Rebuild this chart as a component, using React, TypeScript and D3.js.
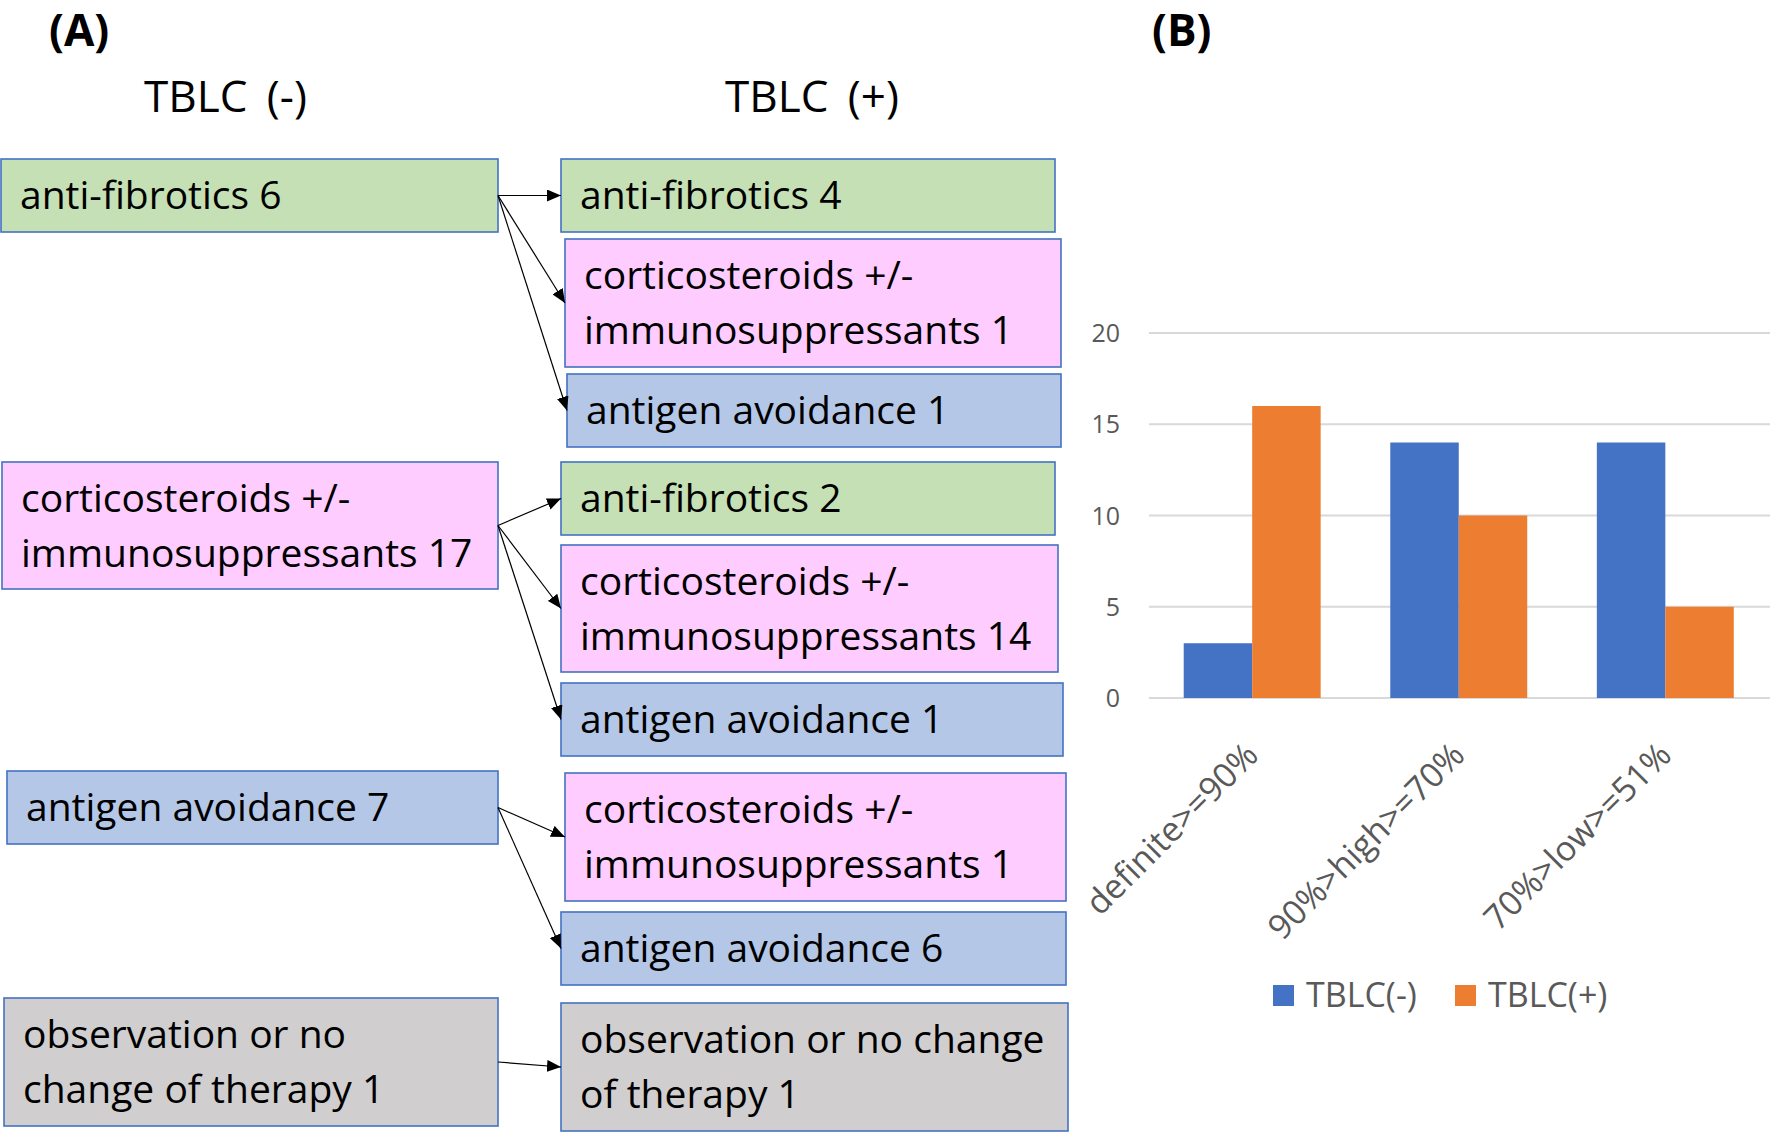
import React, { useEffect } from "react";
import * as d3 from "d3";

// ---------- Panel A data ----------
const treatments = [
  "anti-fibrotics",
  "corticosteroids +/- immunosuppressants",
  "antigen avoidance",
  "observation or no change of therapy",
];
const beforeCounts = [6, 17, 7, 1];
const beforeLines = [
  ["anti-fibrotics 6"],
  ["corticosteroids +/-", "immunosuppressants 17"],
  ["antigen avoidance 7"],
  ["observation or no", "change of therapy 1"],
];
// transitions TBLC(-) -> TBLC(+)
const flowFrom = [0, 0, 0, 1, 1, 1, 2, 2, 3];
const flowTo = [0, 1, 2, 0, 1, 2, 1, 2, 3];
const flowCounts = [4, 1, 1, 2, 14, 1, 1, 6, 1];
const afterLines = [
  ["anti-fibrotics 4"],
  ["corticosteroids +/-", "immunosuppressants 1"],
  ["antigen avoidance 1"],
  ["anti-fibrotics 2"],
  ["corticosteroids +/-", "immunosuppressants 14"],
  ["antigen avoidance 1"],
  ["corticosteroids +/-", "immunosuppressants 1"],
  ["antigen avoidance 6"],
  ["observation or no change", "of therapy 1"],
];
const columnTitles = ["TBLC (-)", "TBLC (+)"];
const panelLabels = ["(A)", "(B)"];

// ---------- Panel B data ----------
const categories = ["definite>=90%", "90%>high>=70%", "70%>low>=51%"];
const seriesNames = ["TBLC(-)", "TBLC(+)"];
const tblcNeg = [3, 14, 14];
const tblcPos = [16, 10, 5];
const yTicks = [0, 5, 10, 15, 20];

// ---------- Layout / styles ----------
const FONT = "'Open Sans', 'Noto Sans', sans-serif";
const treatmentFill = ["#C5E0B4", "#FFCCFF", "#B4C7E7", "#D0CECE"];
const seriesColors = ["#4472C4", "#ED7D31"];
const leftLayout = [
  { x: 1, y: 159, w: 497, h: 73 },
  { x: 2, y: 462, w: 496, h: 127 },
  { x: 7, y: 771, w: 491, h: 73 },
  { x: 4, y: 998, w: 494, h: 128 },
];
const rightLayout = [
  { x: 561, y: 159, w: 494, h: 73 },
  { x: 565, y: 239, w: 496, h: 128 },
  { x: 567, y: 374, w: 494, h: 73 },
  { x: 561, y: 462, w: 494, h: 73 },
  { x: 561, y: 545, w: 497, h: 127 },
  { x: 561, y: 683, w: 502, h: 73 },
  { x: 565, y: 773, w: 501, h: 128 },
  { x: 561, y: 912, w: 505, h: 73 },
  { x: 561, y: 1003, w: 507, h: 128 },
];

function Box({ b, fill, lines }: { b: any; fill: string; lines: string[] }) {
  return (
    <g>
      <rect x={b.x} y={b.y} width={b.w} height={b.h} fill={fill} stroke="#4472C4" strokeWidth={1.6} />
      {lines.map((t, i) => (
        <text key={i} x={b.x + 19} y={b.y + 49.5 + i * 55} fontSize={39} fontFamily={FONT} fill="#000">
          {t}
        </text>
      ))}
    </g>
  );
}

export default function App() {
  useEffect(() => {
    document.body.style.margin = "0";
  }, []);

  // bar chart scales
  const x0 = d3.scaleBand<string>().domain(categories).range([1149, 1768.5]).paddingInner(0.337).paddingOuter(0.168);
  const x1 = d3.scaleBand<string>().domain(seriesNames).range([0, x0.bandwidth()]);
  const y = d3.scaleLinear().domain([0, 20]).range([698, 333]);
  const seriesValues = [tblcNeg, tblcPos];

  return (
    <svg width={1770} height={1132} style={{ position: "absolute", left: 0, top: 0, background: "#fff" }}>
      <defs>
        <marker id="arrow" markerUnits="userSpaceOnUse" markerWidth={14} markerHeight={12} refX={14} refY={6} orient="auto">
          <path d="M0,0 L14,6 L0,12 Z" fill="#000" />
        </marker>
      </defs>
      <rect x={0} y={0} width={1770} height={1132} fill="#fff" />

      {/* Panel labels */}
      <text x={49} y={46} fontSize={44} fontWeight="bold" fontFamily={FONT}>{panelLabels[0]}</text>
      <text x={1152} y={46} fontSize={44} fontWeight="bold" fontFamily={FONT}>{panelLabels[1]}</text>

      {/* Column titles */}
      <text x={144} y={112} fontSize={44} fontFamily={FONT} wordSpacing={8}>{columnTitles[0]}</text>
      <text x={725} y={112} fontSize={44} fontFamily={FONT} wordSpacing={8}>{columnTitles[1]}</text>

      {/* Left boxes */}
      {treatments.map((t, i) => (
        <Box key={"l" + i} b={leftLayout[i]} fill={treatmentFill[i]} lines={beforeLines[i]} />
      ))}
      {/* Right boxes */}
      {flowTo.map((tIdx, j) => (
        <Box key={"r" + j} b={rightLayout[j]} fill={treatmentFill[tIdx]} lines={afterLines[j]} />
      ))}
      {/* Arrows */}
      {flowFrom.map((fIdx, j) => {
        const s = leftLayout[fIdx];
        const t = rightLayout[j];
        return (
          <line
            key={"a" + j}
            x1={s.x + s.w}
            y1={s.y + s.h / 2}
            x2={t.x}
            y2={t.y + t.h / 2}
            stroke="#000"
            strokeWidth={1.2}
            markerEnd="url(#arrow)"
            data-count={flowCounts[j]}
          />
        );
      })}

      {/* Panel B: gridlines */}
      {yTicks.map((v) => (
        <g key={"g" + v}>
          <line x1={1149} x2={1770} y1={y(v)} y2={y(v)} stroke="#D9D9D9" strokeWidth={2} />
          <text x={1120} y={y(v) + 9} textAnchor="end" fontSize={25} fontFamily={FONT} fill="#595959">{v}</text>
        </g>
      ))}
      {/* Bars */}
      {categories.map((c, ci) => (
        <g key={"c" + c}>
          {seriesNames.map((s, si) => (
            <rect
              key={s}
              x={(x0(c) as number) + (x1(s) as number)}
              y={y(seriesValues[si][ci])}
              width={x1.bandwidth()}
              height={y(0) - y(seriesValues[si][ci])}
              fill={seriesColors[si]}
            />
          ))}
        </g>
      ))}
      {/* Category labels */}
      {categories.map((c) => {
        const cx = (x0(c) as number) + x0.bandwidth() / 2 + 8;
        const cy = 757;
        return (
          <text key={"t" + c} transform={`translate(${cx},${cy}) rotate(-45)`} textAnchor="end" fontSize={34} fontFamily={FONT} fill="#595959">
            {c}
          </text>
        );
      })}
      {/* Legend */}
      {seriesNames.map((s, i) => {
        const lx = [1273, 1455][i];
        return (
          <g key={"lg" + s}>
            <rect x={lx} y={985} width={21} height={21} fill={seriesColors[i]} />
            <text x={lx + 33} y={1007} fontSize={34} fontFamily={FONT} fill="#595959">{s}</text>
          </g>
        );
      })}
    </svg>
  );
}
